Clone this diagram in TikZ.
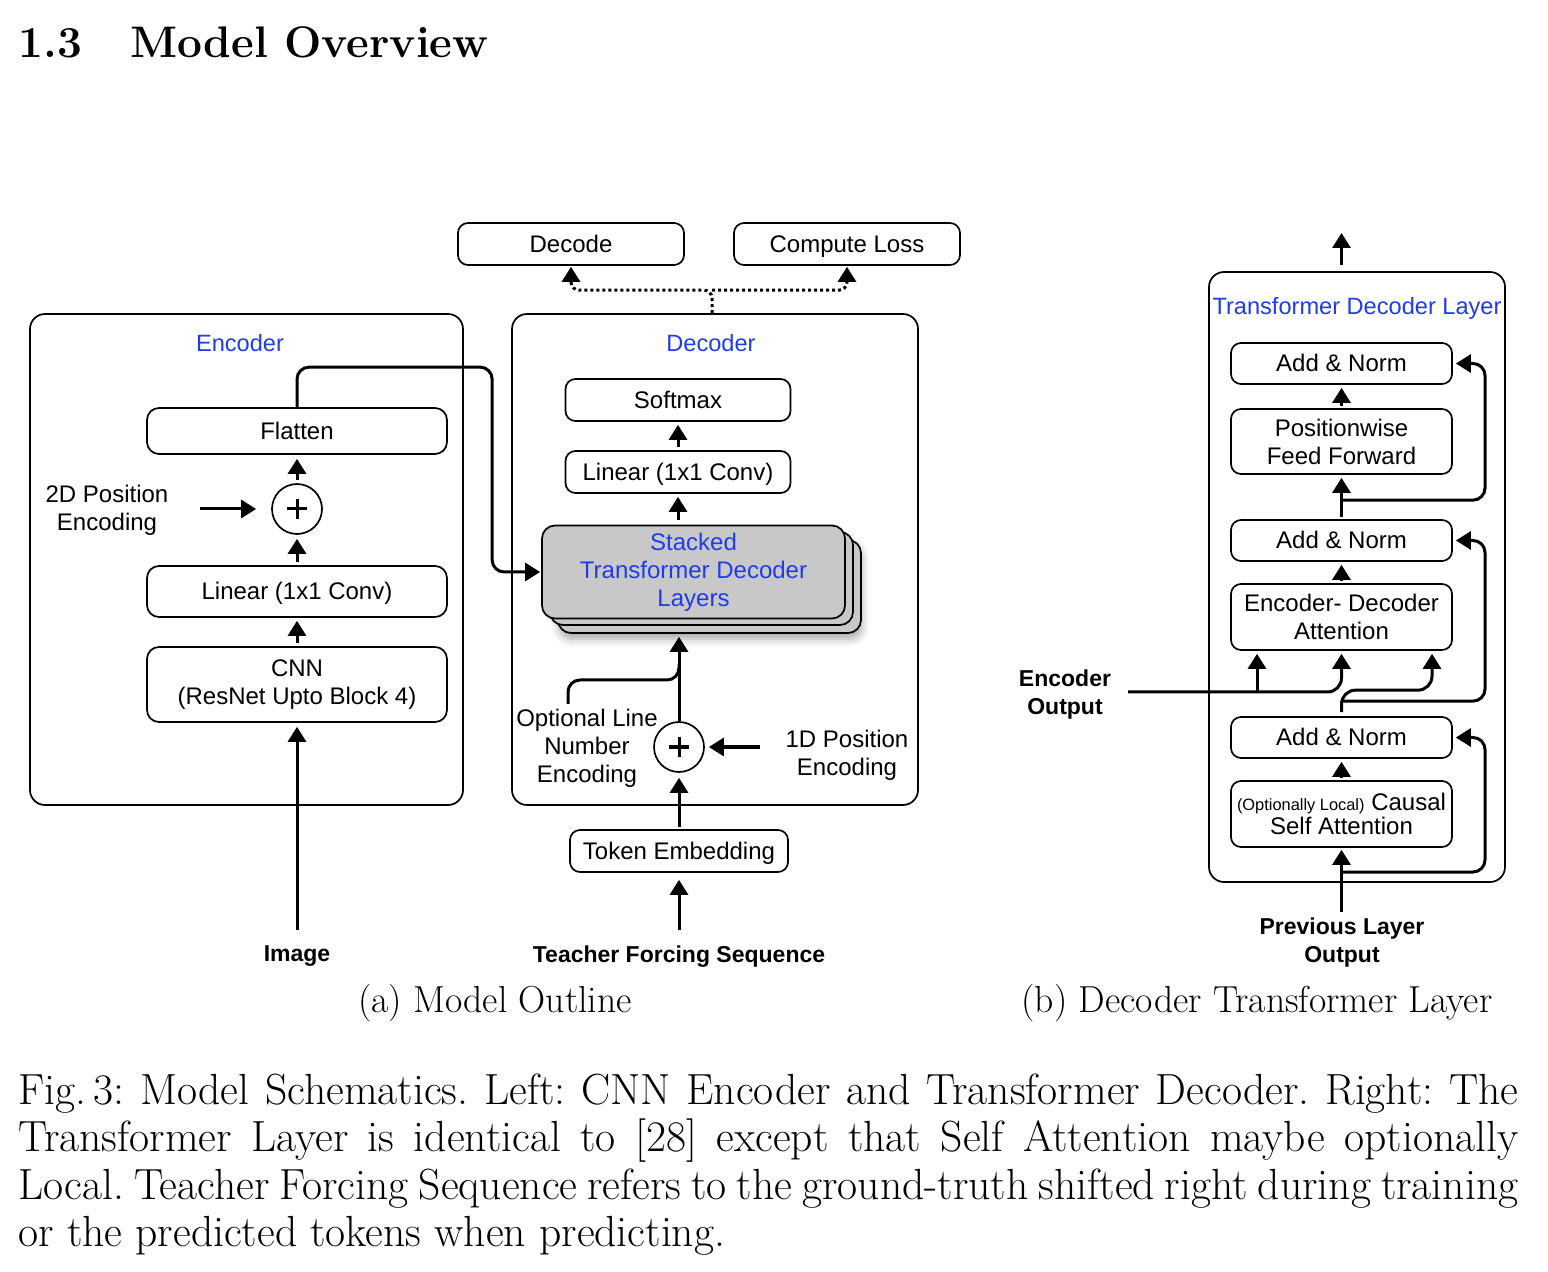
\documentclass[tikz,border=0pt]{standalone}
\usepackage{fontspec}
\newfontfamily\dfont{Liberation Sans}
\usetikzlibrary{arrows.meta,calc,shadows.blur}
\definecolor{lblue}{RGB}{30,60,235}
\definecolor{sgray}{RGB}{200,200,200}
\begin{document}
\begin{tikzpicture}[x=0.5pt,y=-0.5pt,
  dfnt/.style={font=\dfont\fontsize{12}{14}\selectfont},
  box/.style={draw, line width=0.85pt, rounded corners=5pt, align=center, inner sep=0pt, dfnt},
  one/.style={text height=11pt, text depth=2.5pt},
  frame/.style={draw, line width=0.85pt, rounded corners=7.5pt, inner sep=0pt},
  lbl/.style={align=center, inner sep=0pt, dfnt},
  blbl/.style={align=center, inner sep=0pt, font=\dfont\bfseries\fontsize{11.5}{14}\selectfont},
  ttl/.style={text=lblue, inner sep=0pt, one, font=\dfont\fontsize{11.8}{14}\selectfont},
  arr/.style={line width=1.5pt, -{Triangle[width=9pt,length=7.5pt]}},
  plainln/.style={line width=1.5pt},
  dotln/.style={line width=1.5pt, dash pattern=on 1.5pt off 1.5pt, -{Triangle[width=9pt,length=7.5pt]}},
  plus/.style={draw, circle, line width=0.85pt, minimum size=25pt, inner sep=0pt,
    path picture={\draw[line width=1.5pt] ([xshift=-5pt]path picture bounding box.center) -- ([xshift=5pt]path picture bounding box.center);
                  \draw[line width=1.5pt] ([yshift=-5pt]path picture bounding box.center) -- ([yshift=5pt]path picture bounding box.center);}},
  stk/.style={box, fill=sgray, rounded corners=6.5pt, minimum width=151.5pt, minimum height=46.5pt},
  capfont/.style={inner sep=0pt, font=\fontsize{18.8}{22}\selectfont},
]
\useasboundingbox (0,0) rectangle (1548,1272);

% heading
\node[anchor=base west, inner sep=0pt, font=\fontsize{22.1}{26}\selectfont\bfseries] (secnum) at (18,58) {1.3};
\node[anchor=base west, inner sep=0pt, font=\fontsize{22.1}{26}\selectfont\bfseries] (sectitle) at (130,58) {Model Overview};

% top boxes
\node[box, one, minimum width=113pt, minimum height=21pt] (decode) at (571,244) {Decode};
\node[box, one, minimum width=113pt, minimum height=21pt] (loss) at (847,244) {Compute Loss};

% encoder
\node[frame, minimum width=216.5pt, minimum height=245.5pt] (encbox) at (246.5,559.5) {};
\node[ttl] (enclbl) at (240,343) {Encoder};
\node[box, one, rounded corners=6pt, minimum width=150pt, minimum height=23pt] (flatten) at (297,431) {Flatten};
\node[plus] (plus1) at (297,509) {};
\node[lbl] (pos2d) at (107,510) {2D Position\\Encoding};
\node[box, one, rounded corners=6pt, minimum width=150pt, minimum height=25.5pt] (lin1) at (297,591.5) {Linear (1x1 Conv)};
\node[box, rounded corners=6pt, minimum width=150pt, minimum height=37.5pt] (cnn) at (297,684.5) {CNN\\(ResNet Upto Block 4)};
\node[blbl] (imglbl) at (297,956) {Image};
\coordinate (imgin) at (297,930);

% decoder
\node[frame, minimum width=203pt, minimum height=245.5pt] (decbox) at (715,559.5) {};
\node[ttl] (declbl) at (711,343) {Decoder};
\node[box, one, minimum width=112.5pt, minimum height=21pt] (softmax) at (678,400) {Softmax};
\node[box, one, minimum width=112.5pt, minimum height=21pt] (lin2) at (678,472) {Linear (1x1 Conv)};
\node[stk, blur shadow={shadow xshift=0.5pt, shadow yshift=-3pt, shadow blur radius=4pt, shadow opacity=35}] (stack3) at (709.5,586.5) {};
\node[stk] (stack2) at (701.5,578.5) {};
\node[stk, text=lblue] (stack) at (693.5,572) {Stacked\\Transformer Decoder\\Layers};
\node[plus] (plus2) at (679,747) {};
\node[lbl] (optlbl) at (587,748) {Optional Line\\Number\\Encoding};
\coordinate (optstart) at (568,704);
\node[lbl] (pos1d) at (847,755) {1D Position\\Encoding};
\coordinate (pos1din) at (760,747);
\node[box, one, minimum width=109pt, minimum height=21pt] (token) at (679,851) {Token Embedding};
\node[blbl] (tflbl) at (679,957) {Teacher Forcing Sequence};
\coordinate (tfin) at (679,930);

% captions
\node[anchor=base, capfont] (capa) at (495,1012) {(a) Model Outline};
\node[anchor=base, capfont] (capb) at (1257,1012) {(b) Decoder Transformer Layer};
\node[anchor=north west, inner sep=0pt, text width=750pt, align=justify, font=\fontsize{21.8}{23.8}\selectfont\frenchspacing] (cap) at (18,1073)
 {Fig.\,3: Model Schematics. Left: CNN Encoder and Transformer Decoder. Right: The\linebreak
  Transformer Layer is identical to [28] except that Self Attention maybe optionally\linebreak
  Local. Teacher Forcing Sequence refers to the ground-truth shifted right during training\linebreak
  or the predicted tokens when predicting.};

% right panel
\node[frame, minimum width=148pt, minimum height=305pt] (tdl) at (1357,577) {};
\node[ttl] (tdllbl) at (1357,306) {Transformer Decoder Layer};
\node[box, one, minimum width=110.5pt, minimum height=20.5pt] (an1) at (1341.5,363.5) {Add \& Norm};
\node[box, minimum width=110.5pt, minimum height=32.5pt] (pff) at (1341.5,441.5) {Positionwise\\Feed Forward};
\node[box, one, minimum width=110.5pt, minimum height=20.5pt] (an2) at (1341.5,540.5) {Add \& Norm};
\node[box, minimum width=110.5pt, minimum height=33pt] (eda) at (1341.5,617) {Encoder- Decoder\\Attention};
\node[box, one, minimum width=110.5pt, minimum height=20.5pt] (an3) at (1341.5,737.5) {Add \& Norm};
\node[box, minimum width=110.5pt, minimum height=33pt] (csa) at (1341.5,814) {{\fontsize{8.2}{10}\selectfont (Optionally Local)} Causal\\[-2pt]Self Attention};
\node[blbl] (encout) at (1065,695) {Encoder\\Output};
\node[blbl] (prevlbl) at (1342,943) {Previous Layer\\Output};
\coordinate (outtip) at (1341.5,233);
\coordinate (encin) at (1128,692);
\coordinate (encbr) at (1257,692);
\coordinate (previn) at (1341.5,912);

% ---- connectors: top
\coordinate (split) at ($(decbox.north)+(-3,-23)$);
\draw[dotln, rounded corners=4pt] ($(decbox.north)+(-3,0)$) -- (split) -| ([yshift=-0.5pt]decode.south);
\draw[dotln, rounded corners=4pt] (split) -| ([yshift=-0.5pt]loss.south);

% encoder connectors
\draw[arr, rounded corners=6pt] (flatten.north) -- ++(0,-40) -| ([xshift=-24.5pt]stack.west) -- ([xshift=-0.5pt]stack.west);
\draw[arr] ([yshift=1.5pt]plus1.north) -- ([yshift=-2pt]flatten.south);
\draw[arr] ([yshift=1.5pt]lin1.north) -- ([yshift=-2pt]plus1.south);
\draw[arr] ([yshift=1.5pt]cnn.north) -- ([yshift=-1.5pt]lin1.south);
\draw[arr] ([xshift=-35.5pt]plus1.west) -- ([xshift=-7.5pt]plus1.west);
\draw[arr] (imgin) -- ([yshift=-2pt]cnn.south);

% decoder connectors
\draw[arr] ([yshift=1.5pt]lin2.north) -- ([yshift=-1.5pt]softmax.south);
\draw[arr] ($(lin2.south |- stack3.north)+(0,-19)$) -- ($(lin2.south)+(0,3)$);
\draw[arr] (plus2.north) -- ($(plus2.north |- stack3.south)+(0,3)$);
\draw[plainln, rounded corners=6pt] (optstart) |- (679,680) -- (679,664);
\draw[arr] (pos1din) -- ([xshift=2pt]plus2.east);
\draw[arr] ([yshift=1pt]token.north) -- ([yshift=-2.5pt]plus2.south);
\draw[arr] (tfin) -- ([yshift=-3.5pt]token.south);

% right connectors
\draw[arr] ($(an1.north |- tdl.north)+(0,-6)$) -- (outtip);
\draw[arr] ([yshift=1pt]pff.north) -- ([yshift=-1.5pt]an1.south);
\draw[arr] ([yshift=1pt]an2.north) -- ([yshift=-1.5pt]pff.south);
\draw[arr, rounded corners=6pt] ($(an2.north)+(0,-19)$) -- ++(143.5,0) |- ([xshift=1.5pt]an1.east);
\draw[arr] ([yshift=1pt]eda.north) -- ([yshift=-1.5pt]an2.south);
\draw[arr, rounded corners=7pt] (encin) -| ($(eda.south)+(0,3)$);
\draw[arr] (encbr) -- ($(encbr |- eda.south)+(0,3)$);
\draw[arr, rounded corners=7pt] ([yshift=2pt]an3.north) -- ++(0,-22) -| ($(eda.south)+(90.5,3)$);
\draw[arr, rounded corners=6pt] ($(an3.north)+(0,-15)$) -- ++(143.5,0) |- ([xshift=1.5pt]an2.east);
\draw[arr] ([yshift=1pt]csa.north) -- ([yshift=-1.5pt]an3.south);
\draw[arr] (previn) -- ([yshift=-1pt]csa.south);
\draw[arr, rounded corners=6pt] ($(previn)+(0,-40)$) -- ++(143.5,0) |- ([xshift=1.5pt]an3.east);
\end{tikzpicture}
\end{document}
